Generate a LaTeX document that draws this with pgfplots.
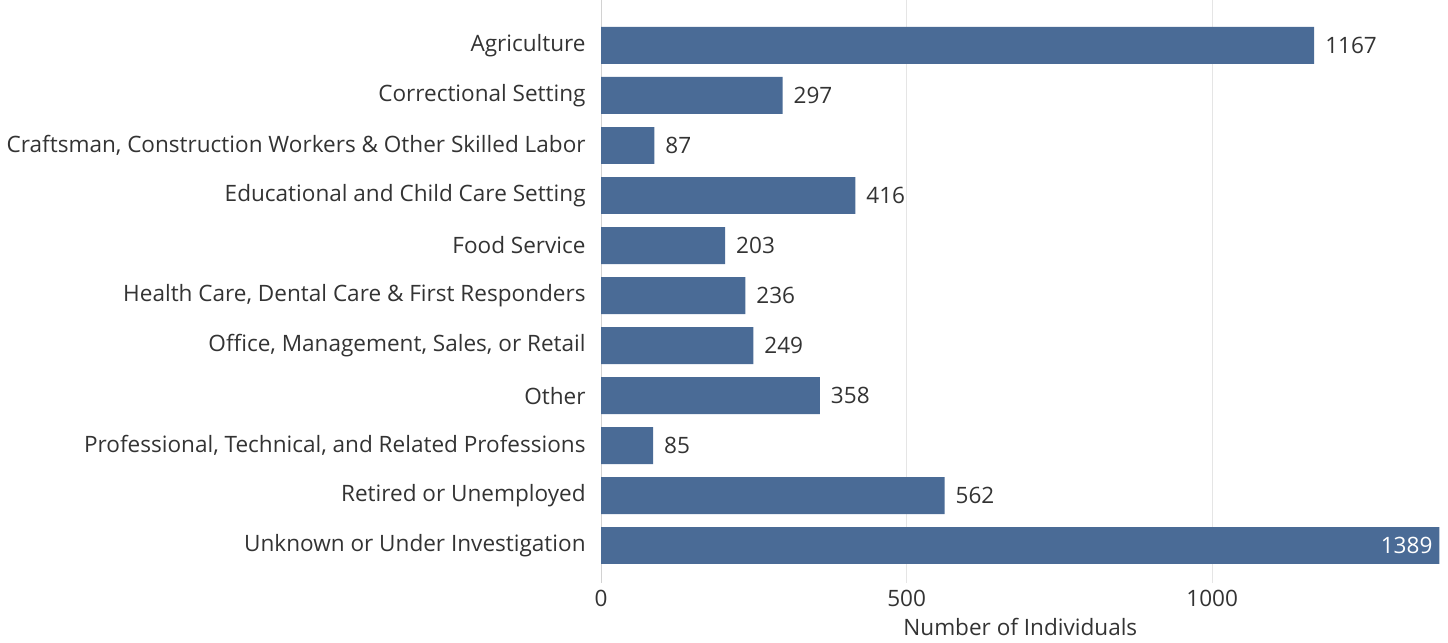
\documentclass[border=0pt]{standalone}
\usepackage{pgfplots}
\pgfplotsset{compat=1.18}
\usepackage{fontspec}
\setmainfont{Open Sans}
\definecolor{bar}{HTML}{4A6B96}
\definecolor{txt}{HTML}{333333}
\begin{document}
\begin{tikzpicture}
\begin{axis}[
  scale only axis, width=420pt, height=292pt,
  xbar, bar width=18.5pt, bar shift=0pt,
  xmin=0, xmax=1372, ymin=-0.9, ymax=10.75, y dir=reverse,
  ytick={0,...,10},
  yticklabels={Agriculture,Correctional Setting,Craftsman{,} Construction Workers \& Other Skilled Labor,Educational and Child Care Setting,Food Service,{Health Care, Dental Care \& First Responders},{Office, Management, Sales, or Retail},Other,{Professional, Technical, and Related Professions},Retired or Unemployed,Unknown or Under Investigation},
  xtick={0,500,1000},
  axis line style={draw=none}, tick style={draw=none},
  xmajorgrids, grid style={draw=gray!20},
  extra x ticks={0}, extra x tick labels={}, extra x tick style={grid style={draw=gray!35}},
  ticklabel style={font=\fontsize{11.3}{12}\selectfont, text=txt},
  /pgf/number format/.cd, assume math mode=true, 1000 sep={}, /pgfplots/.cd,
  xlabel={Number of Individuals}, xlabel style={font=\fontsize{11.3}{12}\selectfont, text=txt, yshift=1pt},
  nodes near coords, nodes near coords style={font=\fontsize{11.3}{12}\selectfont, text=txt, xshift=2pt},
]
\addplot[fill=bar, draw=none] coordinates {(1167,0)(297,1)(87,2)(416,3)(203,4)(236,5)(249,6)(358,7)(85,8)(562,9)};
\addplot[fill=bar, draw=none, nodes near coords={}] coordinates {(1389,10)};
\node[anchor=east, text=white, font=\fontsize{11.3}{12}\selectfont] at (axis cs:1372,10) {1389};
\end{axis}
\end{tikzpicture}
\end{document}
